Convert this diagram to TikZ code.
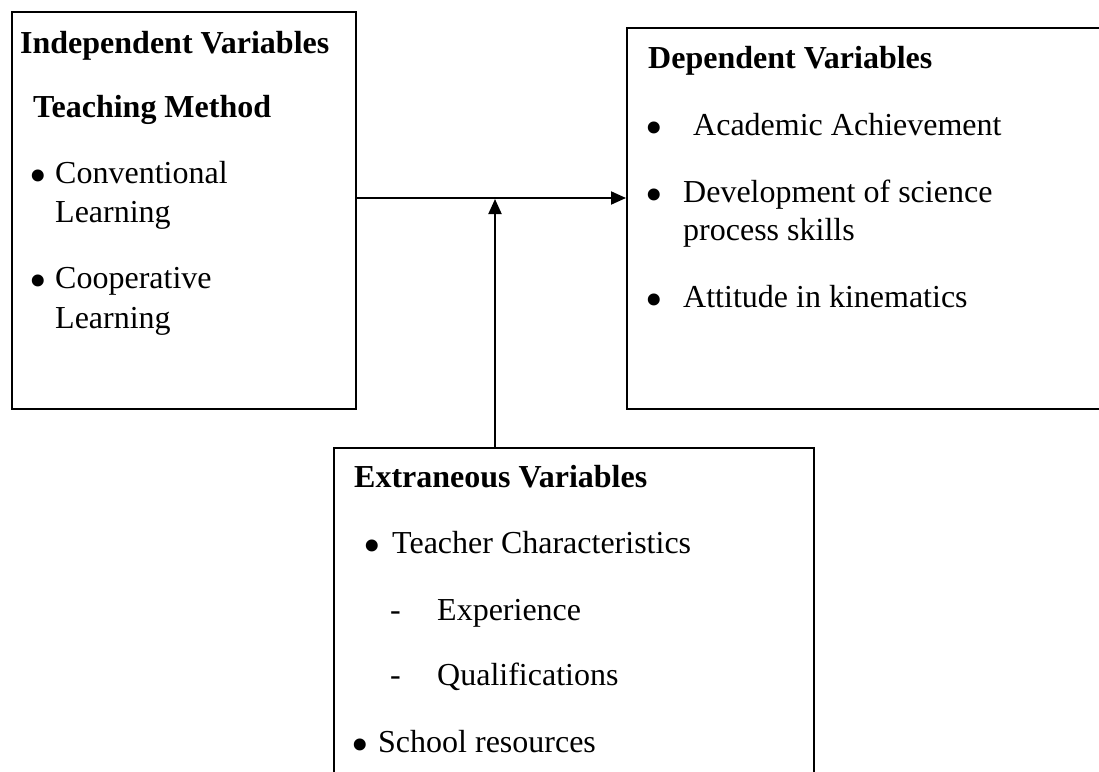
\documentclass[tikz,border=0pt]{standalone}
\usepackage{fontspec}
\setmainfont{Liberation Serif}
\usetikzlibrary{arrows.meta}
\tikzset{
  varbox/.style={draw, line width=1.6pt, rectangle, anchor=north west, inner sep=0pt},
  txt/.style={anchor=base west, inner sep=0pt, font=\fontsize{32}{38}\selectfont},
  head/.style={txt, font=\fontsize{32}{38}\selectfont\bfseries},
  bul/.style={anchor=base west, inner sep=0pt, yshift=-9pt, font=\fontsize{50}{52}\selectfont},
  arr/.style={line width=2pt, -{Triangle[length=15pt,width=13pt]}}
}
\begin{document}
\begin{tikzpicture}[x=1pt,y=-1pt]
\useasboundingbox (0,0) rectangle (1099,771);
% boxes
\node[varbox, minimum width=344, minimum height=397] (indep) at (11,11) {};
\node[varbox, minimum width=490, minimum height=381] (dep) at (626,27) {};
\node[varbox, minimum width=480, minimum height=340] (extr) at (333,447) {};
% independent variables
\node[head] (indepHead) at (20,53) {Independent Variables};
\node[head] (teachHead) at (33,117) {Teaching Method};
\node[bul] (b1) at (29,183) {•};
\node[txt] (convItem) at (55,183) {Conventional};
\node[txt] (convCont) at (55,222) {Learning};
\node[bul] (b2) at (29,288) {•};
\node[txt] (coopItem) at (55,288) {Cooperative};
\node[txt] (coopCont) at (55,328) {Learning};
% dependent variables
\node[head] (depHead) at (648,68) {Dependent Variables};
\node[bul] (b3) at (645,135) {•};
\node[txt] (achItem) at (693,135) {Academic Achievement};
\node[bul] (b4) at (645,202) {•};
\node[txt] (devItem) at (683,202) {Development of science};
\node[txt] (devCont) at (683,240) {process skills};
\node[bul] (b5) at (645,307) {•};
\node[txt] (attItem) at (683,307) {Attitude in kinematics};
% extraneous variables
\node[head] (extrHead) at (354,487) {Extraneous Variables};
\node[bul] (b6) at (363,553) {•};
\node[txt] (teachItem) at (392,553) {Teacher Characteristics};
\node[txt] (d1) at (390,620) {-};
\node[txt] (expItem) at (437,620) {Experience};
\node[txt] (d2) at (390,685) {-};
\node[txt] (qualItem) at (437,685) {Qualifications};
\node[bul] (b7) at (351,752) {•};
\node[txt] (schoolItem) at (378,752) {School resources};
% connectors
\coordinate (junction) at (495,199);
\draw[arr] (indep.east |- 0,198) -- (dep.west |- 0,198);
\draw[arr] (extr.north -| junction) -- (junction);
\end{tikzpicture}
\end{document}
